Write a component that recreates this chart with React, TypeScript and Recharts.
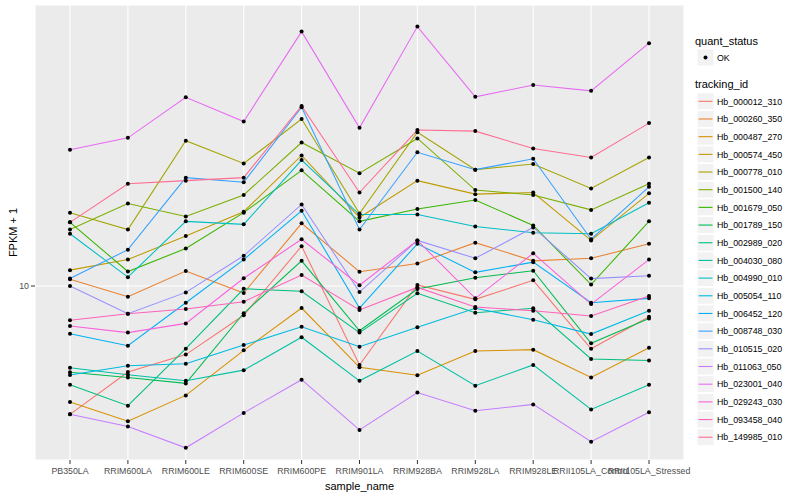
import React from 'react'
import { LineChart, Line, XAxis, YAxis, CartesianGrid } from 'recharts'

const FONT = '"Liberation Sans", Arial, Helvetica, sans-serif'

const samples = [
  'PB350LA',
  'RRIM600LA',
  'RRIM600LE',
  'RRIM600SE',
  'RRIM600PE',
  'RRIM901LA',
  'RRIM928BA',
  'RRIM928LA',
  'RRIM928LE',
  'RRII105LA_Control',
  'RRII105LA_Stressed',
]

const trackingIds = [
  'Hb_000012_310',
  'Hb_000260_350',
  'Hb_000487_270',
  'Hb_000574_450',
  'Hb_000778_010',
  'Hb_001500_140',
  'Hb_001679_050',
  'Hb_001789_150',
  'Hb_002989_020',
  'Hb_004030_080',
  'Hb_004990_010',
  'Hb_005054_110',
  'Hb_006452_120',
  'Hb_008748_030',
  'Hb_010515_020',
  'Hb_011063_050',
  'Hb_023001_040',
  'Hb_029243_030',
  'Hb_093458_040',
  'Hb_149985_010',
]

// FPKM + 1, one value per sample
const hb000012 = [4.3, 5.68, 6.37, 8.25, 13.0, 5.95, 10.07, 9.16, 10.38, 6.62, 8.17]
const hb000260 = [10.45, 9.32, 11.04, 9.55, 15.1, 10.99, 11.6, 13.3, 11.8, 12.0, 13.2]
const hb000487 = [4.66, 4.11, 4.87, 6.55, 8.65, 5.86, 5.56, 6.52, 6.58, 5.48, 6.66]
const hb000574 = [11.1, 11.9, 13.9, 16.3, 23.6, 15.7, 20.0, 18.3, 18.5, 13.5, 18.4]
const hb000778 = [16.2, 14.5, 26.0, 22.4, 30.0, 16.1, 27.5, 21.5, 22.3, 19.0, 23.3]
const hb001500 = [14.5, 17.2, 15.8, 18.2, 25.7, 21.0, 26.4, 18.8, 18.2, 16.5, 19.6]
const hb001679 = [15.2, 11.0, 12.8, 16.2, 21.4, 15.3, 16.6, 17.6, 14.9, 10.1, 15.3]
const hb001789 = [5.67, 5.48, 5.27, 8.36, 11.8, 7.45, 9.8, 10.56, 11.06, 6.86, 8.07]
const hb002989 = [5.22, 4.55, 6.62, 9.82, 9.66, 7.36, 9.53, 8.39, 8.64, 6.19, 6.13]
const hb004030 = [5.84, 5.58, 5.36, 5.75, 7.14, 5.36, 6.52, 5.19, 5.95, 4.44, 5.22]
const hb004990 = [14.1, 10.6, 15.3, 15.0, 22.9, 16.0, 16.0, 14.8, 14.2, 14.1, 17.3]
const hb005054 = [5.57, 5.92, 6.0, 6.78, 7.65, 6.71, 7.62, 8.64, 8.01, 7.29, 8.5]
const hb006452 = [7.31, 6.75, 8.96, 11.9, 16.4, 8.65, 13.2, 10.94, 11.7, 8.96, 9.22]
const hb008748 = [10.5, 12.7, 20.4, 19.8, 32.4, 14.5, 24.1, 21.5, 23.1, 13.6, 19.2]
const hb010515 = [10.0, 8.33, 9.59, 12.2, 17.1, 9.61, 13.5, 12.0, 14.7, 10.5, 10.7]
const hb011063 = [4.3, 3.97, 3.45, 4.34, 5.4, 3.88, 4.96, 4.4, 4.59, 3.59, 4.36]
const hb023001 = [24.5, 26.5, 34.6, 29.5, 53.3, 28.3, 55.1, 34.7, 37.5, 36.1, 49.4]
const hb029243 = [7.69, 7.36, 7.82, 10.52, 13.6, 10.05, 13.5, 9.22, 12.4, 8.88, 11.9]
const hb093458 = [7.98, 8.33, 8.6, 9.02, 10.75, 8.54, 9.91, 8.71, 8.5, 8.21, 9.36]
const hb149985 = [15.2, 19.6, 20.0, 20.4, 32.7, 18.5, 27.9, 27.7, 24.7, 23.3, 29.2]

const seriesValues = [
  hb000012, hb000260, hb000487, hb000574, hb000778,
  hb001500, hb001679, hb001789, hb002989, hb004030,
  hb004990, hb005054, hb006452, hb008748, hb010515,
  hb011063, hb023001, hb029243, hb093458, hb149985,
]

const yTicks = [10]

// ggplot2 default hue palette, 20 levels
const palette = [
  '#F8766D', '#EA8331', '#D89000', '#C09B00', '#A3A500',
  '#7CAE00', '#39B600', '#00BB4E', '#00BF7D', '#00C1A3',
  '#00BFC4', '#00BAE0', '#00B0F6', '#35A2FF', '#9590FF',
  '#C77CFF', '#E76BF3', '#FA62DB', '#FF62BC', '#FF6C91',
]

const data = samples.map((s, i) => {
  const row: Record<string, any> = { sample_name: s }
  trackingIds.forEach((id, j) => {
    row[id] = seriesValues[j][i]
  })
  return row
})

function LegendPanel() {
  const first = 101.3
  const step = 17.68
  return (
    <svg width={110} height={500} style={{ position: 'absolute', left: 690, top: 0 }}>
      <text x={5} y={45} fontSize={11} fontFamily={FONT} fill='#000'>quant_status</text>
      <rect x={7} y={49} width={17} height={17} fill='#F2F2F2' stroke='#fff' />
      <circle cx={15.5} cy={57.5} r={2} fill='#000' />
      <text x={27} y={60.7} fontSize={8.8} fontFamily={FONT} fill='#000'>OK</text>
      <text x={5} y={88.3} fontSize={11} fontFamily={FONT} fill='#000'>tracking_id</text>
      {trackingIds.map((id, i) => {
        const cy = first + i * step
        return (
          <g key={id}>
            <rect x={7} y={cy - 8.5} width={17} height={17} fill='#F2F2F2' stroke='#fff' />
            <line x1={8.5} x2={22.5} y1={cy} y2={cy} stroke={palette[i]} strokeWidth={1.1} />
            <text x={27} y={cy + 3.2} fontSize={8.8} fontFamily={FONT} fill='#000'>{id}</text>
          </g>
        )
      })}
    </svg>
  )
}

export default function App() {
  const tickStyle = { fill: '#4D4D4D', fontSize: 8.8, fontFamily: FONT }
  return (
    <div style={{ position: 'absolute', left: 0, top: 0, width: 800, height: 500, background: '#fff' }}>
      <LineChart
        width={800}
        height={500}
        data={data}
        margin={{ top: 5, right: 116, bottom: 0, left: 0 }}
      >
        <CartesianGrid fill='#EBEBEB' stroke='#FFFFFF' strokeWidth={1.07} />
        <XAxis
          dataKey='sample_name'
          type='category'
          scale='point'
          padding={{ left: 35, right: 35 }}
          interval={0}
          height={40}
          axisLine={false}
          tickLine={{ stroke: '#333333' }}
          tickSize={4}
          tickMargin={4}
          tick={tickStyle}
          label={{
            value: 'sample_name',
            position: 'insideBottom',
            offset: 10,
            style: { fill: '#000', fontSize: 11, fontFamily: FONT },
          }}
        />
        <YAxis
          type='number'
          scale='log'
          domain={[3.184, 63.5]}
          allowDataOverflow
          ticks={yTicks}
          width={35}
          axisLine={false}
          tickLine={{ stroke: '#333333' }}
          tickSize={4}
          tickMargin={2}
          tick={tickStyle}
          label={{
            value: 'FPKM + 1',
            angle: -90,
            position: 'insideLeft',
            offset: 13,
            style: { fill: '#000', fontSize: 11, fontFamily: FONT, textAnchor: 'middle' },
          }}
        />
        {trackingIds.map((id, i) => (
          <Line
            key={id}
            dataKey={id}
            type='linear'
            stroke={palette[i]}
            strokeWidth={1.07}
            dot={false}
            activeDot={false}
            isAnimationActive={false}
          />
        ))}
        {trackingIds.map((id) => (
          <Line
            key={id + '_pt'}
            dataKey={id}
            type='linear'
            stroke='none'
            dot={{ r: 2, fill: '#000', stroke: 'none' }}
            activeDot={false}
            isAnimationActive={false}
          />
        ))}
      </LineChart>
      <LegendPanel />
    </div>
  )
}
